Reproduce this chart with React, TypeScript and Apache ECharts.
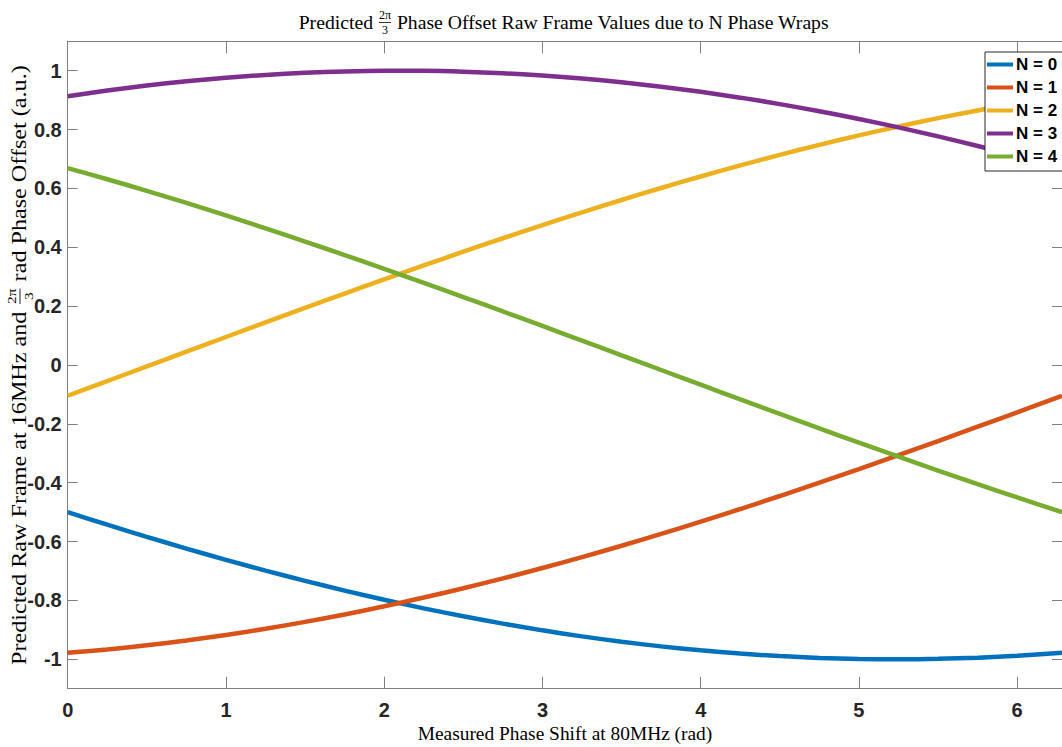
import React, { useEffect, useRef } from "react";
import * as echarts from "echarts";

const X = [0, 0.25, 0.5, 0.75, 1, 1.25, 1.5, 1.75, 2, 2.25, 2.5, 2.75, 3, 3.25, 3.5, 3.75, 4, 4.25, 4.5, 4.75, 5, 5.25, 5.5, 5.75, 6, 6.2832];
const N0 = [-0.5, -0.5427, -0.584, -0.6238, -0.6621, -0.6987, -0.7336, -0.7666, -0.7978, -0.8269, -0.854, -0.8789, -0.9017, -0.9222, -0.9403, -0.9562, -0.9696, -0.9806, -0.9892, -0.9953, -0.9989, -1.0, -0.9986, -0.9947, -0.9884, -0.9782];
const N1 = [-0.9781, -0.9665, -0.9525, -0.9361, -0.9174, -0.8963, -0.873, -0.8476, -0.82, -0.7903, -0.7587, -0.7252, -0.6899, -0.6529, -0.6142, -0.574, -0.5323, -0.4894, -0.4452, -0.3999, -0.3535, -0.3064, -0.2584, -0.2098, -0.1607, -0.1045];
const N2 = [-0.1045, -0.0547, -0.0047, 0.0453, 0.0951, 0.1448, 0.194, 0.2428, 0.291, 0.3385, 0.3851, 0.4307, 0.4753, 0.5187, 0.5607, 0.6014, 0.6406, 0.6782, 0.7141, 0.7482, 0.7804, 0.8107, 0.8389, 0.8651, 0.8891, 0.9135];
const N3 = [0.9135, 0.9327, 0.9496, 0.9641, 0.9761, 0.9858, 0.9929, 0.9976, 0.9998, 0.9995, 0.9967, 0.9914, 0.9836, 0.9734, 0.9608, 0.9457, 0.9283, 0.9085, 0.8865, 0.8622, 0.8359, 0.8074, 0.7769, 0.7444, 0.7101, 0.6691];
const N4 = [0.6691, 0.6312, 0.5916, 0.5506, 0.5082, 0.4645, 0.4196, 0.3737, 0.3269, 0.2793, 0.2309, 0.182, 0.1327, 0.0829, 0.033, -0.017, -0.0669, -0.1167, -0.1662, -0.2153, -0.2638, -0.3117, -0.3588, -0.405, -0.4502, -0.5];

const SERIES_NAMES = ["N = 0", "N = 1", "N = 2", "N = 3", "N = 4"];
const SERIES_VALUES = [N0, N1, N2, N3, N4];
const COLORS = ["#0072BD", "#D95319", "#EDB120", "#7E2F8E", "#77AC30"];

const X_TICKS = [0, 1, 2, 3, 4, 5, 6];
const Y_TICKS = [-1, -0.8, -0.6, -0.4, -0.2, 0, 0.2, 0.4, 0.6, 0.8, 1];

type Part = string | { num: string; den: string };
const TITLE_PARTS: Part[] = ["Predicted ", { num: "2π", den: "3" }, " Phase Offset Raw Frame Values due to N Phase Wraps"];
const YLABEL_PARTS: Part[] = ["Predicted Raw Frame at 16MHz and ", { num: "2π", den: "3" }, " rad Phase Offset (a.u.)"];
const XLABEL = "Measured Phase Shift at 80MHz (rad)";

const SERIF = '"Liberation Serif", "DejaVu Serif", serif';
const SANS = '"Liberation Sans Narrow", "Arial Narrow", "Liberation Sans", Arial, sans-serif';

function buildLabel(parts: Part[], size: number, fracSize: number) {
  const canvas = document.createElement("canvas");
  const ctx = canvas.getContext("2d")!;
  const mainFont = `${size}px ${SERIF}`;
  const fracFont = `${fracSize}px ${SERIF}`;
  const widths = parts.map((p) => {
    if (typeof p === "string") {
      ctx.font = mainFont;
      return ctx.measureText(p).width;
    }
    ctx.font = fracFont;
    return Math.max(ctx.measureText(p.num).width, ctx.measureText(p.den).width) + 2;
  });
  const W = widths.reduce((a, b) => a + b, 0);
  let cur = -W / 2;
  const children: any[] = [];
  parts.forEach((p, i) => {
    const w = widths[i];
    if (typeof p === "string") {
      children.push({
        type: "text",
        x: cur,
        y: 0,
        style: { text: p, font: mainFont, fill: "#000", textAlign: "left", textVerticalAlign: "middle", align: "left", verticalAlign: "middle" },
      });
    } else {
      const cx = cur + w / 2;
      children.push({
        type: "text",
        x: cx,
        y: -fracSize * 0.62,
        style: { text: p.num, font: fracFont, fill: "#000", textAlign: "center", textVerticalAlign: "middle", align: "center", verticalAlign: "middle" },
      });
      children.push({
        type: "line",
        shape: { x1: cur + 1, y1: 0.5, x2: cur + w - 1, y2: 0.5 },
        style: { stroke: "#000", lineWidth: 0.8 },
      });
      children.push({
        type: "text",
        x: cx,
        y: fracSize * 0.7,
        style: { text: p.den, font: fracFont, fill: "#000", textAlign: "center", textVerticalAlign: "middle", align: "center", verticalAlign: "middle" },
      });
    }
    cur += w;
  });
  return { children, width: W };
}

export default function App() {
  const ref = useRef<HTMLDivElement>(null);
  useEffect(() => {
    document.body.style.margin = "0";
    const chart = echarts.init(ref.current!, undefined, { renderer: "svg" });
    const axisLine = { show: true, onZero: false, lineStyle: { color: "#808080", width: 1 } };
    const tickStyle = { color: "#808080" };
    const labelStyle = { color: "#262626", fontSize: 20, fontWeight: "bold", fontFamily: SANS };
    const title = buildLabel(TITLE_PARTS, 19.7, 12);
    const ylab = buildLabel(YLABEL_PARTS, 20.5, 13);
    const yScale = 600 / ylab.width;
    const option: any = {
      animation: false,
      backgroundColor: "#fff",
      grid: { left: 67.7, top: 41.3, width: 996.5, height: 647.4, containLabel: false },
      xAxis: [
        {
          type: "value",
          min: 0,
          max: 6.2832,
          axisLine,
          axisTick: { show: true, inside: true, length: 12, customValues: X_TICKS, lineStyle: tickStyle },
          axisLabel: { customValues: X_TICKS, margin: 11, ...labelStyle },
          splitLine: { show: false },
        },
        {
          type: "value",
          position: "top",
          min: 0,
          max: 6.2832,
          axisLine,
          axisTick: { show: true, inside: true, length: 12, customValues: X_TICKS, lineStyle: tickStyle },
          axisLabel: { show: false },
          splitLine: { show: false },
        },
      ],
      yAxis: [
        {
          type: "value",
          min: -1.1,
          max: 1.1,
          axisLine,
          axisTick: { show: true, inside: true, length: 10, customValues: Y_TICKS, lineStyle: tickStyle },
          axisLabel: { customValues: Y_TICKS, margin: 6, ...labelStyle },
          splitLine: { show: false },
        },
        {
          type: "value",
          position: "right",
          min: -1.1,
          max: 1.1,
          axisLine,
          axisTick: { show: true, inside: true, length: 10, customValues: Y_TICKS, lineStyle: tickStyle },
          axisLabel: { show: false },
          splitLine: { show: false },
        },
      ],
      legend: {
        orient: "vertical",
        left: 985,
        top: 52,
        data: SERIES_NAMES,
        icon: "rect",
        itemWidth: 26,
        itemHeight: 4,
        itemGap: 6,
        padding: [4, 12, 6, 2],
        backgroundColor: "#fff",
        borderColor: "#262626",
        borderWidth: 1,
        borderRadius: 0,
        selectedMode: false,
        textStyle: { fontSize: 17, lineHeight: 17, fontWeight: "bold", color: "#000", fontFamily: SANS, padding: [0, 0, 0, -2] },
      },
      series: SERIES_NAMES.map((name, i) => ({
        name,
        type: "line",
        xAxisIndex: 0,
        yAxisIndex: 0,
        data: X.map((x, j) => [x, SERIES_VALUES[i][j]]),
        smooth: 0.3,
        showSymbol: false,
        symbol: "none",
        color: COLORS[i],
        lineStyle: { width: 4.5, color: COLORS[i] },
        emphasis: { disabled: true },
      })),
      graphic: [
        { type: "group", x: 564, y: 22, children: title.children },
        {
          type: "text",
          x: 565,
          y: 733,
          style: { text: XLABEL, font: `19.4px ${SERIF}`, fill: "#000", textAlign: "center", textVerticalAlign: "middle", align: "center", verticalAlign: "middle" },
        },
        { type: "group", x: 19.5, y: 365, rotation: Math.PI / 2, scaleX: yScale, scaleY: 1, children: ylab.children },
      ],
    };
    chart.setOption(option);
    return () => chart.dispose();
  }, []);
  return <div ref={ref} style={{ width: 1062, height: 747 }} />;
}
